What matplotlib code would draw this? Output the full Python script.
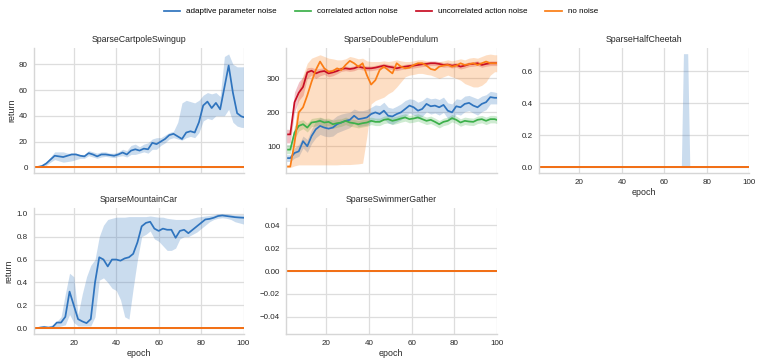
import numpy as np
import matplotlib
matplotlib.use("Agg")
import matplotlib.pyplot as plt

plt.rcParams["font.family"] = ["Liberation Sans", "DejaVu Sans"]

Labels = ["adaptive parameter noise", "correlated action noise", "uncorrelated action noise", "no noise"]
Colors = ["#2f74be", "#3cb04a", "#c80d24", "#fb7d14"]

# epochs sampled every 2 steps (1, 3, ..., 99, 100)
Epochs = np.append(np.arange(1, 100, 2), 100)
# mountain car sampled on even epochs (1, 2, 4, ..., 100)
EpochsMC = np.append([1], np.arange(2, 101, 2))
FlatEpochs = [1, 100]
FlatReturn = [0.0, 0.0]

# SparseCartpoleSwingup, adaptive parameter noise
CP_Mean = [0, 0.3, 1, 3, 6, 9, 8.5, 8, 9, 10,
           10, 9, 8.5, 11, 10, 8.5, 10, 10, 9.5, 9,
           10, 11.5, 10, 13, 14, 13, 14.5, 14, 19, 18,
           20, 22, 25, 26, 24, 22, 27, 28, 27, 35,
           48, 51, 46, 50, 45, 62, 79, 58, 42, 39.5, 39]
CP_Upper = [0.5, 1, 2, 4, 8, 12, 12, 12, 11, 11,
            11, 10, 10, 13, 12, 11, 12, 12, 11, 11,
            12, 14, 13, 17, 18, 16, 18, 19, 22, 23,
            23, 25, 27, 28, 35, 50, 52, 51, 50, 52,
            56, 58, 57, 58, 55, 86, 88, 80, 78, 78, 78]
CP_Lower = [0, 0, 0, 1.5, 4, 6, 5, 4, 4.5, 5,
            6, 7, 7, 9, 8, 7, 8, 8.5, 8, 7.5,
            8.5, 9, 8, 10, 10, 11, 12, 11, 14, 14,
            17, 19, 22, 23, 22, 21, 23, 24, 23, 27,
            36, 38, 37, 40, 40, 40, 45, 35, 32, 31, 31]

# SparseDoublePendulum
DP_Blue = [65, 65, 80, 85, 115, 100, 130, 150, 160, 155,
           152, 155, 165, 170, 175, 178, 190, 180, 182, 185,
           195, 200, 195, 205, 190, 188, 195, 200, 210, 220,
           215, 205, 210, 225, 218, 220, 215, 222, 205, 200,
           218, 215, 225, 228, 220, 215, 225, 230, 245, 243, 243]
DP_BlueUpper = [75, 75, 95, 105, 130, 120, 150, 175, 185, 180,
                178, 180, 190, 195, 198, 200, 210, 205, 205, 208,
                215, 222, 220, 230, 215, 212, 218, 225, 235, 240,
                238, 230, 235, 245, 240, 242, 238, 245, 228, 225,
                240, 238, 248, 250, 245, 240, 248, 252, 262, 260, 258]
DP_BlueLower = [55, 55, 65, 70, 95, 82, 108, 125, 135, 130,
                128, 130, 140, 145, 150, 155, 168, 158, 160, 162,
                172, 178, 172, 182, 168, 165, 172, 178, 188, 198,
                192, 182, 188, 202, 195, 198, 192, 200, 182, 178,
                195, 192, 202, 205, 198, 192, 202, 208, 225, 225, 225]
DP_Green = [90, 90, 140, 160, 165, 155, 170, 172, 175, 170,
            172, 165, 168, 170, 175, 170, 168, 165, 168, 170,
            175, 172, 172, 178, 180, 175, 178, 182, 185, 180,
            182, 185, 180, 175, 178, 172, 165, 172, 175, 183,
            178, 170, 175, 173, 172, 178, 180, 175, 180, 180, 178]
DP_GreenUpper = [105, 105, 160, 175, 178, 168, 182, 184, 186, 182,
                 183, 177, 180, 181, 186, 181, 179, 176, 179, 181,
                 186, 183, 183, 189, 191, 186, 189, 193, 196, 191,
                 193, 196, 191, 186, 189, 183, 176, 183, 186, 194,
                 189, 181, 186, 184, 183, 189, 191, 186, 191, 191, 189]
DP_GreenLower = [78, 78, 122, 145, 152, 142, 158, 160, 164, 158,
                 161, 153, 156, 159, 164, 159, 157, 154, 157, 159,
                 164, 161, 161, 167, 169, 164, 167, 171, 174, 169,
                 171, 174, 169, 164, 167, 161, 154, 161, 164, 172,
                 167, 159, 164, 162, 161, 167, 169, 164, 169, 169, 167]
DP_Red = [135, 135, 230, 258, 275, 318, 323, 315, 320, 322,
          315, 318, 322, 328, 330, 328, 330, 335, 332, 330,
          330, 332, 335, 338, 335, 333, 330, 333, 335, 337,
          338, 340, 342, 343, 345, 345, 343, 340, 341, 338,
          340, 335, 338, 342, 343, 345, 340, 343, 345, 345, 345]
DP_RedUpper = [150, 150, 260, 290, 305, 332, 333, 328, 330, 332,
               325, 328, 330, 335, 337, 335, 337, 342, 339, 337,
               337, 339, 342, 345, 342, 340, 337, 340, 342, 344,
               345, 347, 349, 350, 352, 352, 350, 347, 348, 345,
               347, 342, 345, 349, 350, 352, 347, 350, 352, 352, 352]
DP_RedLower = [110, 110, 200, 235, 250, 300, 310, 300, 308, 312,
               305, 308, 314, 321, 323, 321, 323, 328, 325, 323,
               323, 325, 328, 331, 328, 326, 323, 326, 328, 330,
               331, 333, 335, 336, 338, 338, 336, 333, 334, 331,
               333, 328, 331, 335, 336, 338, 333, 336, 338, 338, 338]
DP_Orange = [40, 40, 110, 200, 215, 250, 290, 325, 350, 330,
             320, 322, 330, 325, 340, 352, 345, 335, 345, 310,
             282, 295, 325, 335, 325, 315, 345, 335, 330, 332,
             340, 345, 345, 338, 328, 325, 335, 338, 340, 335,
             338, 345, 340, 342, 345, 340, 345, 350, 345, 345, 345]
DP_OrangeUpper = [45, 45, 150, 270, 310, 345, 360, 365, 370, 365,
                  360, 358, 355, 355, 358, 365, 362, 358, 360, 352,
                  350, 350, 350, 352, 350, 352, 355, 352, 350, 350,
                  352, 355, 355, 352, 350, 348, 350, 352, 355, 352,
                  355, 358, 355, 360, 362, 360, 365, 370, 372, 370, 370]
DP_OrangeLower = [37, 37, 42, 45, 45, 45, 45, 45, 45, 45,
                  45, 45, 45, 46, 46, 46, 47, 48, 50, 130,
                  225, 235, 240, 245, 255, 262, 275, 290, 305, 310,
                  312, 315, 315, 312, 310, 305, 300, 305, 310, 305,
                  300, 295, 285, 280, 275, 275, 280, 290, 310, 320, 320]

# SparseHalfCheetah, adaptive parameter noise band
HC_Epochs = [1, 68, 69, 71, 72, 100]
HC_Upper = [0.0, 0.0, 0.71, 0.71, 0.0, 0.0]
HC_Lower = [0.0, 0.0, 0.0, 0.0, 0.0, 0.0]

# SparseMountainCar, adaptive parameter noise
MC_Mean = [0.0, 0.0, 0.005, 0.01, 0.005, 0.01, 0.05, 0.05, 0.1, 0.32,
           0.2, 0.08, 0.06, 0.045, 0.08, 0.4, 0.62, 0.6, 0.54, 0.6,
           0.6, 0.59, 0.61, 0.62, 0.65, 0.75, 0.89, 0.92, 0.93, 0.87,
           0.85, 0.87, 0.86, 0.86, 0.79, 0.85, 0.86, 0.83, 0.86, 0.89,
           0.92, 0.95, 0.955, 0.965, 0.98, 0.985, 0.98, 0.975, 0.97, 0.967, 0.965]
MC_Upper = [0.0, 0.01, 0.02, 0.025, 0.02, 0.03, 0.06, 0.1, 0.3, 0.48,
            0.45, 0.12, 0.3, 0.45, 0.55, 0.6, 0.8, 0.9, 0.95, 0.96,
            0.97, 0.97, 0.97, 0.975, 0.975, 0.975, 0.975, 0.975, 0.98, 0.975,
            0.97, 0.97, 0.96, 0.955, 0.95, 0.95, 0.95, 0.95, 0.96, 0.97,
            0.975, 0.98, 0.985, 0.99, 1.0, 1.0, 1.0, 0.995, 0.99, 0.99, 0.99]
MC_Lower = [0.0, 0.0, 0.0, 0.0, 0.0, 0.0, 0.01, 0.02, 0.03, 0.12,
            0.05, 0.02, 0.02, 0.02, 0.02, 0.1, 0.42, 0.44, 0.4, 0.35,
            0.33, 0.25, 0.1, 0.08, 0.35, 0.6, 0.8, 0.82, 0.85, 0.78,
            0.76, 0.72, 0.68, 0.68, 0.7, 0.78, 0.8, 0.8, 0.82, 0.84,
            0.87, 0.9, 0.93, 0.95, 0.96, 0.965, 0.96, 0.95, 0.93, 0.92, 0.91]


def style_axis(ax, title, ylim, yticks, fmt, show_x, ylabel):
    ax.set_facecolor("white")
    for side in ["top", "right"]:
        ax.spines[side].set_visible(False)
    for side in ["left", "bottom"]:
        ax.spines[side].set_color("#d6d6d6")
        ax.spines[side].set_linewidth(1.0)
    ax.grid(True, color="#dddddd", linewidth=0.9)
    ax.set_axisbelow(True)
    ax.set_xlim(1, 100)
    ax.set_ylim(ylim)
    ax.set_xticks([20, 40, 60, 80, 100])
    ax.set_yticks(yticks)
    ax.set_yticklabels([fmt.format(t).replace("-", "\u2212") for t in yticks])
    ax.tick_params(length=0, labelsize=5.8, labelcolor="#262626", pad=4.2)
    ax.set_title(title, fontsize=6.3, color="#262626", pad=4)
    if show_x:
        ax.set_xlabel("epoch", fontsize=6.4, color="#262626", labelpad=1.5)
    else:
        ax.tick_params(axis="x", labelbottom=False)
    if ylabel:
        ax.set_ylabel("return", fontsize=6.4, color="#262626", labelpad=2)


def draw_series(ax, x, mean, lower, upper, color, label=None):
    if lower is not None:
        ax.fill_between(x, lower, upper, color=color, alpha=0.25, linewidth=0)
    ax.plot(x, mean, color=color, linewidth=1.25, label=label)


def add_axes(fig, left, top, right, bottom):
    W, H = 762.0, 364.0
    return fig.add_axes([left / W, 1 - bottom / H, (right - left) / W, (bottom - top) / H])


if __name__ == "__main__":
    fig = plt.figure(figsize=(7.62, 3.64), dpi=100)

    # SparseCartpoleSwingup
    ax = add_axes(fig, 33.5, 48, 243.5, 173)
    draw_series(ax, Epochs, CP_Mean, CP_Lower, CP_Upper, Colors[0], Labels[0])
    draw_series(ax, FlatEpochs, FlatReturn, None, None, Colors[1], Labels[1])
    draw_series(ax, FlatEpochs, FlatReturn, None, None, Colors[2], Labels[2])
    draw_series(ax, FlatEpochs, FlatReturn, None, None, Colors[3], Labels[3])
    style_axis(ax, "SparseCartpoleSwingup", (-4.4, 92.6), [0, 20, 40, 60, 80], "{:.0f}", False, True)
    Handles, HandleLabels = ax.get_legend_handles_labels()

    # SparseDoublePendulum
    ax = add_axes(fig, 286, 48, 496.7, 173)
    draw_series(ax, Epochs, DP_Blue, DP_BlueLower, DP_BlueUpper, Colors[0])
    draw_series(ax, Epochs, DP_Green, DP_GreenLower, DP_GreenUpper, Colors[1])
    draw_series(ax, Epochs, DP_Red, DP_RedLower, DP_RedUpper, Colors[2])
    draw_series(ax, Epochs, DP_Orange, DP_OrangeLower, DP_OrangeUpper, Colors[3])
    style_axis(ax, "SparseDoublePendulum", (21, 390), [100, 200, 300], "{:.0f}", False, False)

    # SparseHalfCheetah
    ax = add_axes(fig, 539, 48, 749.3, 173)
    ax.fill_between(HC_Epochs, HC_Lower, HC_Upper, color=Colors[0], alpha=0.25, linewidth=0)
    for c in Colors:
        draw_series(ax, FlatEpochs, FlatReturn, None, None, c)
    style_axis(ax, "SparseHalfCheetah", (-0.0355, 0.7455), [0.0, 0.2, 0.4, 0.6], "{:.1f}", True, False)

    # SparseMountainCar
    ax = add_axes(fig, 33.5, 208, 243.5, 334)
    draw_series(ax, EpochsMC, MC_Mean, MC_Lower, MC_Upper, Colors[0])
    for c in Colors[1:]:
        draw_series(ax, FlatEpochs, FlatReturn, None, None, c)
    style_axis(ax, "SparseMountainCar", (-0.05, 1.05), [0.0, 0.2, 0.4, 0.6, 0.8, 1.0], "{:.1f}", True, True)

    # SparseSwimmerGather
    ax = add_axes(fig, 286, 208, 496.7, 334)
    for c in Colors:
        draw_series(ax, FlatEpochs, FlatReturn, None, None, c)
    style_axis(ax, "SparseSwimmerGather", (-0.055, 0.055), [-0.04, -0.02, 0.0, 0.02, 0.04], "{:.2f}", True, False)

    fig.legend(Handles, HandleLabels, loc="center", bbox_to_anchor=(0.5, 1 - 11.5 / 364), ncol=4,
               frameon=False, fontsize=5.8, handlelength=2.0, columnspacing=2.2, handletextpad=0.8)

    fig.savefig("out.png", dpi=100, facecolor="white")
